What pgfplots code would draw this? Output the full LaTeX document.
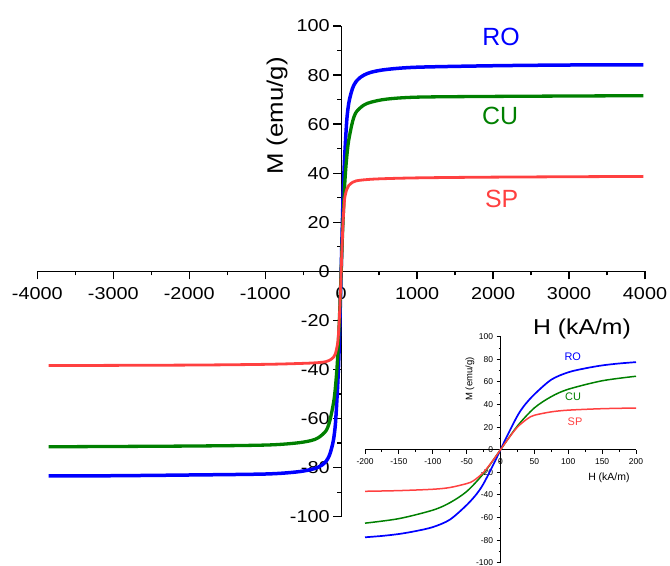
\documentclass[border=0pt]{standalone}
\usepackage{pgfplots}
\pgfplotsset{compat=1.18}
\usepackage{pgfplotstable}
\usetikzlibrary{calc}
\usepackage{fontspec}
\setmainfont{Liberation Sans}
\newfontfamily\widefont{Liberation Sans}[FakeStretch=1.15]

\definecolor{roblue}{RGB}{0,0,255}
\definecolor{cugreen}{RGB}{0,128,0}
\definecolor{spred}{RGB}{255,64,64}

\pgfplotstableread{
H M
-3850 -83.4
-3000 -83.3
-2000 -83.0
-1000 -82.6
-600 -81.8
-400 -80.8
-300 -79.8
-250 -78.9
-200 -77.5
-175 -76.3
-150 -74.6
-125 -72.0
-100 -68.5
-75 -62
-50 -49
-35 -39
-25 -30
-10 -12.5
0 0
10 12.5
25 30
35 39
50 49
75 62
100 68.5
125 72
150 74.6
175 76.3
200 77.5
250 79
300 80
400 81.2
600 82.3
1000 83.2
2000 83.8
3000 84.1
3980 84.2
}\rodata

\pgfplotstableread{
H M
-3850 -71.5
-2000 -71.2
-1000 -70.8
-600 -70.0
-400 -69.0
-300 -67.8
-200 -65
-150 -61
-100 -53.5
-75 -47
-50 -37
-25 -21
0 0
25 21
50 37
75 47
100 53.5
150 61
200 65
300 67.8
400 69
600 70.2
1000 71
2000 71.3
3980 71.6
}\cudata

\pgfplotstableread{
H M
-3850 -38.4
-2000 -38.2
-1000 -37.9
-500 -37.5
-300 -37.2
-200 -36.8
-150 -36.2
-100 -35
-75 -33.5
-50 -30
-40 -27.5
-25 -20
-10 -8.5
0 0
10 8.5
25 20
40 27.5
50 30.5
75 33.5
100 35
150 36.3
200 36.9
300 37.3
500 37.7
1000 38.1
2000 38.4
3980 38.7
}\spdata

\begin{document}
\begin{tikzpicture}
\begin{axis}[name=main,
  scale only axis, width=607.7bp, height=490.7bp,
  axis lines=middle,
  xmin=-4000, xmax=4000, ymin=-100, ymax=100,
  xtick={-4000,-3000,...,4000}, ytick={-100,-80,...,100},
  minor x tick num=1, minor y tick num=1,
  tick align=outside, major tick length=8bp, minor tick length=4bp,
  axis line style={line width=1.3bp,-},
  every tick/.style={line width=1.3bp,black},
  hide obscured x ticks=false, hide obscured y ticks=false,
  /pgf/number format/assume math mode=true,
  /pgf/number format/1000 sep={},
  tick label style={font=\widefont\fontsize{17.3}{20}\selectfont},
  xticklabel style={yshift=-5bp},
  xlabel={H (kA/m)}, ylabel={M (emu/g)},
  every axis x label/.style={at={(rel axis cs:0.8963,0.3825)},anchor=center,font=\widefont\fontsize{21.6}{24}\selectfont},
  every axis y label/.style={at={(rel axis cs:0.3944,0.8166)},anchor=center,rotate=90,font=\widefont\fontsize{22.5}{24}\selectfont},
  clip=false]
\addplot[roblue, line width=3.5bp, smooth] table[x=H,y=M] {\rodata};
\addplot[cugreen, line width=3.3bp, smooth] table[x=H,y=M] {\cudata};
\addplot[spred, line width=2.8bp, smooth] table[x=H,y=M] {\spdata};
\node[roblue, font=\fontsize{25}{28}\selectfont] at (axis cs:2106,95.5) {RO};
\node[cugreen, font=\fontsize{25}{28}\selectfont] at (axis cs:2093,63.3) {CU};
\node[spred, font=\fontsize{25}{28}\selectfont] at (axis cs:2114,29.5) {SP};
\end{axis}

\begin{axis}[name=inset,
  at={($(main.south west)+(327.7bp,-46bp)$)}, anchor=south west,
  scale only axis, width=271bp, height=226bp,
  axis lines=middle,
  xmin=-200, xmax=200, ymin=-100, ymax=100,
  xtick={-200,-150,...,200}, ytick={-100,-80,...,100},
  minor x tick num=1, minor y tick num=1,
  tick align=outside, major tick length=4bp, minor tick length=2bp,
  axis line style={line width=0.9bp,-},
  every tick/.style={line width=0.9bp,black},
  hide obscured x ticks=false, hide obscured y ticks=false,
  /pgf/number format/assume math mode=true,
  /pgf/number format/1000 sep={},
  tick label style={font=\fontsize{8.5}{10}\selectfont},
  xticklabel style={yshift=-1.5bp},
  xlabel={H (kA/m)}, ylabel={M (emu/g)},
  every axis x label/.style={at={(axis cs:160,-25)},anchor=center,font=\fontsize{10.5}{12}\selectfont},
  every axis y label/.style={at={(axis cs:-45,62.6)},anchor=center,rotate=90,font=\fontsize{9.5}{11}\selectfont},
  clip=false]
\addplot[roblue, line width=1.7bp, smooth, restrict x to domain=-200:200] table[x=H,y=M] {\rodata};
\addplot[cugreen, line width=1.5bp, smooth, restrict x to domain=-200:200] table[x=H,y=M] {\cudata};
\addplot[spred, line width=1.5bp, smooth, restrict x to domain=-200:200] table[x=H,y=M] {\spdata};
\node[roblue, font=\fontsize{11}{12}\selectfont] at (axis cs:106.6,82.3) {RO};
\node[cugreen, font=\fontsize{11}{12}\selectfont] at (axis cs:107,46.9) {CU};
\node[spred, font=\fontsize{11}{12}\selectfont] at (axis cs:110,24.5) {SP};
\end{axis}
\pgfresetboundingbox
\path[use as bounding box] ($(main.south west)+(-37.3bp,-48.3bp)$) rectangle ($(main.north east)+(25bp,26bp)$);
\end{tikzpicture}
\end{document}
